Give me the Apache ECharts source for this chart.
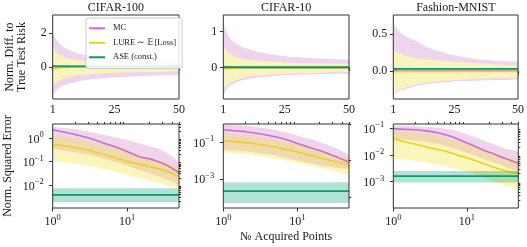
<!DOCTYPE html>
<html><head><meta charset="utf-8">
<script src="https://cdn.jsdelivr.net/npm/echarts@6/dist/echarts.min.js"></script>
<style>html,body{margin:0;padding:0;background:#fff}#c{width:527px;height:247px}</style>
</head><body><div id="c"></div>
<script>
// ---------- data ----------
const titles = ['CIFAR-100', 'CIFAR-10', 'Fashion-MNIST'];
const seriesNames = ['MC', 'LURE \u223C \uD835\uDD3C[Loss]', 'ASE (const.)'];
const N = [1,2,3,4,5,6,7,8,9,10,12,14,16,18,20,23,26,30,34,38,42,46,50];
const N_ASE = [1, 50];

// top row: normalised difference to true test risk
const c100_diff_mc_mean = [0.08,0.06,0.05,0.05,0.04,0.04,0.04,0.03,0.03,0.03,0.03,0.03,0.03,0.03,0.03,0.03,0.03,0.03,0.03,0.03,0.03,0.03,0.03];
const c100_diff_mc_hi   = [2.05,1.7,1.48,1.32,1.2,1.1,1.02,0.96,0.9,0.85,0.77,0.7,0.64,0.6,0.56,0.51,0.47,0.44,0.41,0.39,0.37,0.36,0.35];
const c100_diff_mc_lo   = [-1.7,-1.45,-1.28,-1.17,-1.09,-1.03,-0.99,-0.96,-0.92,-0.88,-0.81,-0.76,-0.72,-0.69,-0.66,-0.63,-0.6,-0.57,-0.54,-0.52,-0.5,-0.48,-0.47];
const c100_diff_lure_mean = [-0.1,-0.07,-0.05,-0.04,-0.03,-0.02,-0.02,-0.01,-0.01,0,0,0,0.01,0.01,0.01,0.01,0.01,0.01,0.01,0.01,0.01,0.01,0.01];
const c100_diff_lure_hi = [1.2,0.95,0.8,0.7,0.62,0.56,0.52,0.49,0.46,0.43,0.38,0.34,0.32,0.3,0.28,0.26,0.25,0.24,0.23,0.22,0.22,0.21,0.21];
const c100_diff_lure_lo = [-1.2,-0.98,-0.85,-0.76,-0.7,-0.65,-0.61,-0.58,-0.55,-0.52,-0.47,-0.44,-0.41,-0.39,-0.37,-0.35,-0.33,-0.31,-0.3,-0.29,-0.28,-0.27,-0.26];
const c100_diff_ase = [0.04, 0.04], c100_diff_ase_hi = [0.07, 0.07], c100_diff_ase_lo = [0.01, 0.01];

const c10_diff_mc_mean = [0.03,0.02,0.02,0.01,0.01,0.01,0.01,0.01,0,0,0,0,0,0,0,0,0,0,0,0,0,0,0];
const c10_diff_mc_hi   = [1.23,1.02,0.88,0.79,0.72,0.67,0.62,0.59,0.56,0.53,0.49,0.45,0.42,0.39,0.37,0.34,0.31,0.29,0.27,0.25,0.24,0.23,0.22];
const c10_diff_mc_lo   = [-0.78,-0.63,-0.54,-0.48,-0.44,-0.41,-0.38,-0.36,-0.34,-0.32,-0.3,-0.28,-0.26,-0.25,-0.24,-0.22,-0.21,-0.2,-0.19,-0.18,-0.18,-0.17,-0.17];
const c10_diff_lure_mean = [-0.04,-0.03,-0.02,-0.02,-0.01,-0.01,-0.01,-0.01,0,0,0,0,0,0,0,0,0,0,0,0,0,0,0];
const c10_diff_lure_hi = [0.6,0.5,0.42,0.37,0.33,0.3,0.28,0.26,0.24,0.23,0.21,0.19,0.18,0.17,0.16,0.15,0.14,0.13,0.125,0.12,0.115,0.11,0.11];
const c10_diff_lure_lo = [-0.62,-0.52,-0.45,-0.4,-0.37,-0.34,-0.32,-0.3,-0.28,-0.27,-0.24,-0.22,-0.21,-0.2,-0.19,-0.18,-0.17,-0.16,-0.15,-0.14,-0.13,-0.12,-0.12];
const c10_diff_ase = [0.01, 0.01], c10_diff_ase_hi = [0.03, 0.03], c10_diff_ase_lo = [-0.01, -0.01];

const fm_diff_mc_mean = [0.005,0.008,0.0,-0.004,0.0,0.002,0.0,-0.002,0,0,0,0,0,0,0,0,0,0,0,0,0,0,0];
const fm_diff_mc_hi   = [0.66,0.6,0.56,0.52,0.49,0.47,0.45,0.44,0.42,0.41,0.37,0.33,0.3,0.28,0.26,0.23,0.21,0.18,0.16,0.15,0.14,0.13,0.127];
const fm_diff_mc_lo   = [-0.33,-0.3,-0.28,-0.26,-0.25,-0.24,-0.23,-0.22,-0.21,-0.2,-0.19,-0.18,-0.17,-0.16,-0.155,-0.15,-0.14,-0.135,-0.13,-0.125,-0.12,-0.12,-0.115];
const fm_diff_lure_mean = [-0.01,-0.008,-0.006,-0.005,-0.005,-0.005,-0.005,-0.005,-0.005,-0.005,-0.005,-0.005,-0.005,-0.005,-0.005,-0.005,-0.005,-0.005,-0.005,-0.005,-0.005,-0.005,-0.005];
const fm_diff_lure_hi = [0.29,0.27,0.25,0.235,0.22,0.21,0.2,0.19,0.18,0.175,0.165,0.16,0.15,0.145,0.14,0.13,0.125,0.115,0.105,0.1,0.09,0.085,0.082];
const fm_diff_lure_lo = [-0.31,-0.28,-0.26,-0.24,-0.23,-0.22,-0.21,-0.2,-0.19,-0.18,-0.17,-0.16,-0.15,-0.14,-0.135,-0.13,-0.12,-0.11,-0.105,-0.1,-0.095,-0.09,-0.086];
const fm_diff_ase = [0.03, 0.03], fm_diff_ase_hi = [0.042, 0.042], fm_diff_ase_lo = [0.018, 0.018];

// bottom row: normalised squared error (log scale)
const c100_se_mc_mean = [2.3,1.45,1.05,0.78,0.6,0.5,0.42,0.36,0.31,0.27,0.21,0.17,0.15,0.14,0.13,0.115,0.1,0.085,0.07,0.058,0.048,0.04,0.032];
const c100_se_mc_hi   = [3.1,2.4,1.9,1.6,1.35,1.2,1.08,0.98,0.9,0.85,0.72,0.62,0.55,0.5,0.45,0.4,0.36,0.3,0.24,0.19,0.15,0.12,0.09];
const c100_se_mc_lo   = [0.35,0.25,0.2,0.16,0.13,0.11,0.095,0.085,0.075,0.068,0.055,0.046,0.04,0.035,0.031,0.027,0.024,0.02,0.017,0.015,0.013,0.011,0.01];
const c100_se_lure_mean = [0.55,0.4,0.31,0.24,0.2,0.17,0.15,0.13,0.115,0.1,0.09,0.08,0.072,0.066,0.06,0.055,0.05,0.044,0.038,0.033,0.029,0.026,0.023];
const c100_se_lure_hi = [1.3,0.95,0.75,0.6,0.5,0.43,0.38,0.34,0.3,0.27,0.23,0.2,0.18,0.16,0.15,0.13,0.12,0.1,0.09,0.08,0.07,0.062,0.055];
const c100_se_lure_lo = [0.11,0.08,0.065,0.055,0.047,0.041,0.036,0.032,0.03,0.027,0.023,0.02,0.018,0.016,0.015,0.013,0.012,0.011,0.0095,0.0088,0.008,0.0075,0.007];
const c100_se_ase = [0.0037, 0.0037], c100_se_ase_hi = [0.0071, 0.0071], c100_se_ase_lo = [0.0018, 0.0018];

const c10_se_mc_mean = [0.48,0.38,0.3,0.24,0.2,0.17,0.14,0.12,0.1,0.085,0.068,0.055,0.047,0.04,0.035,0.029,0.024,0.019,0.016,0.013,0.011,0.0095,0.008];
const c10_se_mc_hi   = [0.95,0.8,0.65,0.55,0.47,0.4,0.35,0.3,0.27,0.24,0.19,0.16,0.14,0.12,0.1,0.085,0.07,0.055,0.045,0.037,0.03,0.024,0.02];
const c10_se_mc_lo   = [0.04,0.032,0.026,0.022,0.019,0.016,0.014,0.012,0.011,0.01,0.0085,0.0075,0.0068,0.006,0.0055,0.005,0.0047,0.0043,0.004,0.0038,0.0036,0.0035,0.0034];
const c10_se_lure_mean = [0.12,0.095,0.078,0.065,0.055,0.047,0.041,0.036,0.032,0.029,0.024,0.02,0.018,0.016,0.014,0.012,0.011,0.0095,0.0085,0.0075,0.0068,0.0062,0.0058];
const c10_se_lure_hi = [0.3,0.24,0.2,0.17,0.14,0.12,0.105,0.095,0.085,0.075,0.062,0.052,0.045,0.04,0.035,0.03,0.026,0.022,0.019,0.017,0.015,0.013,0.012];
const c10_se_lure_lo = [0.028,0.022,0.018,0.015,0.013,0.011,0.0098,0.0088,0.008,0.0073,0.0062,0.0055,0.0049,0.0044,0.004,0.0035,0.0031,0.0027,0.0024,0.0021,0.0019,0.0017,0.0015];
const c10_se_ase = [0.00021, 0.00021], c10_se_ase_hi = [0.00065, 0.00065], c10_se_ase_lo = [0.000047, 0.000047];

const fm_se_mc_mean = [0.095,0.088,0.078,0.068,0.058,0.05,0.043,0.037,0.032,0.028,0.023,0.019,0.016,0.014,0.0125,0.011,0.0095,0.0082,0.0072,0.0064,0.0058,0.0053,0.0049];
const fm_se_mc_hi   = [0.125,0.12,0.115,0.105,0.098,0.09,0.082,0.074,0.066,0.06,0.05,0.042,0.036,0.032,0.029,0.025,0.022,0.019,0.017,0.016,0.015,0.014,0.013];
const fm_se_mc_lo   = [0.04,0.035,0.03,0.026,0.022,0.019,0.017,0.015,0.013,0.012,0.01,0.0085,0.0075,0.0066,0.006,0.0052,0.0046,0.004,0.0035,0.0031,0.0028,0.0026,0.0024];
const fm_se_lure_mean = [0.04,0.025,0.019,0.016,0.014,0.012,0.0105,0.0092,0.0085,0.0078,0.0066,0.0057,0.005,0.0045,0.004,0.0035,0.0031,0.0028,0.0025,0.0023,0.0022,0.0021,0.002];
const fm_se_lure_hi = [0.085,0.07,0.058,0.05,0.044,0.039,0.035,0.031,0.028,0.026,0.022,0.019,0.017,0.015,0.014,0.012,0.011,0.0095,0.0085,0.0078,0.0072,0.0068,0.0065];
const fm_se_lure_lo = [0.0075,0.006,0.005,0.0043,0.0038,0.0034,0.003,0.0027,0.0025,0.0023,0.002,0.0017,0.0015,0.0013,0.0012,0.001,0.0009,0.0008,0.0007,0.00065,0.0006,0.00056,0.00053];
const fm_se_ase = [0.0016, 0.0016], fm_se_ase_hi = [0.0025, 0.0025], fm_se_ase_lo = [0.00092, 0.00092];

// axis ticks
const topXTicks = [1, 25, 50];
const topYTicks = [[0, 2], [0, 1], [0, 0.5]];
const topYRange = [[-1.88, 3.06], [-0.87, 1.46], [-0.38, 0.763]];
const botXTicks = [1, 10];
const botXMinor = [2,3,4,5,6,7,8,9,20,30,40,50];
const botYTicks = [[0.01, 0.1, 1], [0.001, 0.1], [0.001, 0.01, 0.1]];
const botYMinor = [
  [0.002,0.003,0.004,0.005,0.006,0.007,0.008,0.009,0.02,0.03,0.04,0.05,0.06,0.07,0.08,0.09,0.2,0.3,0.4,0.5,0.6,0.7,0.8,0.9,2,3,4],
  [0.0001, 0.01, 1],
  [0.0002,0.0003,0.0004,0.0005,0.0006,0.0007,0.0008,0.0009,0.002,0.003,0.004,0.005,0.006,0.007,0.008,0.009,0.02,0.03,0.04,0.05,0.06,0.07,0.08,0.09]
];
const botYRange = [[0.00102, 4.07], [0.000025, 1.0], [0.000102, 0.1445]];

// ---------- styling / layout ----------
const FONT = '"Liberation Serif", "Times New Roman", Times, serif';
const TXT = '#1a1a1a';
const C_MC = '#c86fc9', C_MC_BAND = 'rgba(204,121,199,0.32)';
const C_LU = '#ead21e';
const C_LU_BAND_TOP = 'rgba(249,244,190,1)';
const C_LU_BAND = 'rgba(240,226,66,0.36)';
const C_AS = '#0b9a6e', C_AS_BAND = 'rgba(0,158,115,0.30)';
const GL = [52.7, 223.3, 393.3], GW = [126.3, 125.7, 125];

const grids = [];
for (let i = 0; i < 6; i++) grids.push({left: GL[i % 3], width: GW[i % 3], top: i < 3 ? 15 : 124, height: 84,
  show: true, borderColor: '#333', borderWidth: 1, backgroundColor: 'transparent', z: 5});

function powLabel(v) { const e = Math.round(Math.log10(v)); return '{b|10}{s|' + (e < 0 ? '\u2212' + (-e) : e) + '}'; }
const rich = {b: {fontSize: 12, fontFamily: FONT, color: TXT, lineHeight: 15, verticalAlign: 'bottom'},
              s: {fontSize: 8.5, fontFamily: FONT, color: TXT, lineHeight: 9, verticalAlign: 'top'}};
const tickStyle = {color: '#333', width: 1};
const xAxes = [], yAxes = [];
for (let p = 0; p < 3; p++) {
  xAxes.push({type: 'value', gridIndex: p, min: 1, max: 50, axisLine: {show: false}, splitLine: {show: false},
    axisTick: {show: true, length: 3.5, lineStyle: tickStyle, customValues: topXTicks},
    axisLabel: {customValues: topXTicks, fontSize: 12, fontFamily: FONT, color: TXT, margin: 5}});
  yAxes.push({type: 'value', gridIndex: p, min: topYRange[p][0], max: topYRange[p][1], axisLine: {show: false}, splitLine: {show: false},
    axisTick: {show: true, length: 3.5, lineStyle: tickStyle, customValues: topYTicks[p]},
    axisLabel: {customValues: topYTicks[p], fontSize: 12, fontFamily: FONT, color: TXT, margin: 6,
      formatter: p === 2 ? (v => v.toFixed(1)) : (v => String(v))}});
}
for (let p = 0; p < 3; p++) {
  xAxes.push({type: 'log', gridIndex: 3 + p, min: 1, max: 50, axisLine: {show: false}, splitLine: {show: false},
    axisTick: {show: true, length: 3.5, lineStyle: tickStyle, customValues: botXTicks},
    axisLabel: {customValues: botXTicks, margin: 5, formatter: powLabel, rich: rich}});
  yAxes.push({type: 'log', gridIndex: 3 + p, min: botYRange[p][0], max: botYRange[p][1], axisLine: {show: false}, splitLine: {show: false},
    axisTick: {show: true, length: 3.5, lineStyle: tickStyle, customValues: botYTicks[p]},
    axisLabel: {customValues: botYTicks[p], margin: 9, formatter: powLabel, rich: rich}});
}
for (let p = 0; p < 3; p++) {
  xAxes.push({type: 'log', gridIndex: 3 + p, min: 1, max: 50, axisLine: {show: false}, splitLine: {show: false},
    axisTick: {show: true, length: 2, lineStyle: tickStyle, customValues: botXMinor}, axisLabel: {show: false}});
  yAxes.push({type: 'log', gridIndex: 3 + p, min: botYRange[p][0], max: botYRange[p][1], axisLine: {show: false}, splitLine: {show: false},
    axisTick: {show: true, length: 2, lineStyle: tickStyle, customValues: botYMinor[p]}, axisLabel: {show: false}});
}

function band(ax, xs, lo, hi, color, z) {
  return {type: 'custom', xAxisIndex: ax, yAxisIndex: ax, z: z, clip: true, silent: true,
    data: xs.map((x, i) => [x, lo[i], hi[i]]), encode: {x: 0, y: [1, 2]},
    renderItem: function (params, api) {
      if (params.dataIndex !== 0) return null;
      const up = [], dn = [];
      for (let i = 0; i < xs.length; i++) { up.push(api.coord([xs[i], hi[i]])); dn.push(api.coord([xs[i], lo[i]])); }
      return {type: 'polygon', shape: {points: up.concat(dn.reverse())}, style: {fill: color, stroke: null}};
    }};
}
function line(ax, name, xs, ys, color, w, z) {
  return {type: 'line', name: name, xAxisIndex: ax, yAxisIndex: ax, z: z, silent: true, symbol: 'none', showSymbol: false,
    data: xs.map((x, i) => [x, ys[i]]), lineStyle: {color: color, width: w}, itemStyle: {color: color}, animation: false};
}
const panels = [
  [c100_diff_mc_mean, c100_diff_mc_lo, c100_diff_mc_hi, c100_diff_lure_mean, c100_diff_lure_lo, c100_diff_lure_hi, c100_diff_ase, c100_diff_ase_lo, c100_diff_ase_hi],
  [c10_diff_mc_mean, c10_diff_mc_lo, c10_diff_mc_hi, c10_diff_lure_mean, c10_diff_lure_lo, c10_diff_lure_hi, c10_diff_ase, c10_diff_ase_lo, c10_diff_ase_hi],
  [fm_diff_mc_mean, fm_diff_mc_lo, fm_diff_mc_hi, fm_diff_lure_mean, fm_diff_lure_lo, fm_diff_lure_hi, fm_diff_ase, fm_diff_ase_lo, fm_diff_ase_hi],
  [c100_se_mc_mean, c100_se_mc_lo, c100_se_mc_hi, c100_se_lure_mean, c100_se_lure_lo, c100_se_lure_hi, c100_se_ase, c100_se_ase_lo, c100_se_ase_hi],
  [c10_se_mc_mean, c10_se_mc_lo, c10_se_mc_hi, c10_se_lure_mean, c10_se_lure_lo, c10_se_lure_hi, c10_se_ase, c10_se_ase_lo, c10_se_ase_hi],
  [fm_se_mc_mean, fm_se_mc_lo, fm_se_mc_hi, fm_se_lure_mean, fm_se_lure_lo, fm_se_lure_hi, fm_se_ase, fm_se_ase_lo, fm_se_ase_hi]
];
const series = [];
panels.forEach((d, ax) => {
  series.push(band(ax, N, d[1], d[2], C_MC_BAND, 1));
  series.push(band(ax, N, d[4], d[5], ax < 3 ? C_LU_BAND_TOP : C_LU_BAND, 1.1));
  series.push(line(ax, seriesNames[0], N, d[0], C_MC, 1.6, 2));
  series.push(line(ax, seriesNames[1], N, d[3], C_LU, 1.6, 2.1));
  series.push(band(ax, N_ASE, d[7], d[8], C_AS_BAND, 2.2));
  series.push(line(ax, seriesNames[2], N_ASE, d[6], C_AS, 1.8, 2.3));
});

const graphics = [];
titles.forEach((t, p) => graphics.push({type: 'text', x: GL[p] + GW[p] / 2, y: 8,
  style: {text: t, fontSize: 12, fontFamily: FONT, fill: TXT, align: 'center', verticalAlign: 'middle'}}));
graphics.push({type: 'text', x: 15.8, y: 57, rotation: Math.PI / 2,
  style: {text: 'Norm. Diff. to\nTrue Test Risk', fontSize: 12, lineHeight: 11.7, fontFamily: FONT, fill: TXT, align: 'center', verticalAlign: 'middle'}});
graphics.push({type: 'text', x: 7.5, y: 166, rotation: Math.PI / 2,
  style: {text: 'Norm. Squared Error', fontSize: 12, fontFamily: FONT, fill: TXT, align: 'center', verticalAlign: 'middle'}});
graphics.push({type: 'text', x: GL[1] + GW[1] / 2, y: 237,
  style: {text: '\u2116 Acquired Points', fontSize: 12, fontFamily: FONT, fill: TXT, align: 'center', verticalAlign: 'middle'}});

const chart = echarts.init(document.getElementById('c'), null, {renderer: 'canvas'});
chart.setOption({
  animation: false,
  backgroundColor: '#fff',
  grid: grids, xAxis: xAxes, yAxis: yAxes, series: series, graphic: graphics,
  legend: {data: seriesNames, orient: 'vertical', left: 86, top: 18, icon: 'rect', itemWidth: 16, itemHeight: 2,
    itemGap: 2, padding: [4, 6, 5, 3], backgroundColor: 'rgba(255,255,255,0.85)', borderColor: '#cccccc', borderWidth: 1,
    borderRadius: 2, selectedMode: false, z: 10,
    textStyle: {fontFamily: FONT, fontSize: 8.5, color: TXT, lineHeight: 12.5, padding: [0, 0, 0, 3]}}
});
</script>
</body></html>
